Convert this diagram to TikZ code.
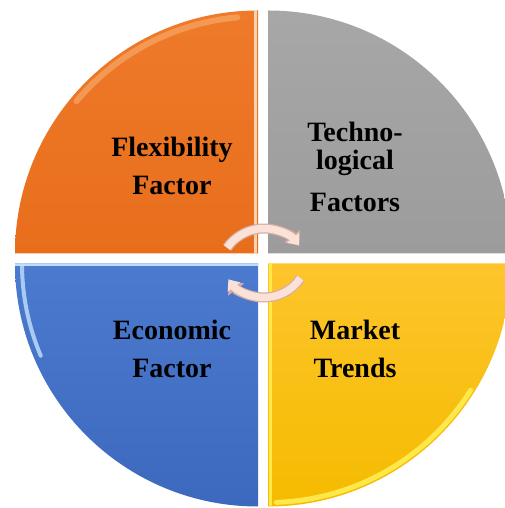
\documentclass[tikz,border=0pt]{standalone}
\usepackage{fontspec}
\setmainfont{Liberation Serif}
\usepackage{tikz}
\usepackage{xcolor}
\usetikzlibrary{arrows.meta}
\definecolor{pieOrange}{HTML}{EE7A2A}
\definecolor{pieOrangeDark}{HTML}{E86E1C}
\definecolor{pieOrangeRim}{HTML}{F7A868}
\definecolor{pieGray}{HTML}{A7A7A7}
\definecolor{pieGrayDark}{HTML}{9C9C9C}
\definecolor{pieBlue}{HTML}{4C7ACE}
\definecolor{pieBlueDark}{HTML}{3C69BE}
\definecolor{pieBlueRim}{HTML}{A8CBF4}
\definecolor{pieYellow}{HTML}{FDC52C}
\definecolor{pieYellowDark}{HTML}{F5BB00}
\definecolor{pieYellowRim}{HTML}{FFE84A}
\definecolor{pieArrow}{HTML}{FBE2D9}
\definecolor{pieArrowEdge}{HTML}{D9AEA2}

\begin{document}
\begin{tikzpicture}[x=1pt,y=1pt, every node/.style={font=\fontsize{28}{38}\selectfont\bfseries, align=center, inner sep=0pt},
    rim/.style={line width=#1, line cap=round},
    turnarrow/.style={line width=10pt, pieArrowEdge, -{Triangle[width=19pt,length=12pt]}},
    turnarrowinner/.style={line width=7.5pt, pieArrow, -{Triangle[width=15pt,length=9.5pt]}}]
    \useasboundingbox (0,0) rectangle (504,508);
    \shade[top color=pieOrange, bottom color=pieOrangeDark] (258,254.5) -- ++(-243,0) arc[start angle=180, end angle=90, radius=243] -- cycle;
    \begin{scope}
      \clip (258,254.5) -- ++(-243,0) arc[start angle=180, end angle=90, radius=243] -- cycle;
      \draw[rim=6pt, pieOrangeRim, opacity=0.7] (258,254.5) ++(95:237) arc[start angle=95, end angle=140, radius=237];
      \draw[rim=3pt, pieOrangeRim!50!white] (255.5,254.5) -- ++(0,243);
    \end{scope}
    \shade[top color=pieGray, bottom color=pieGrayDark] (268,254.5) -- ++(0,243) arc[start angle=90, end angle=0, radius=243] -- cycle;
    \shade[top color=pieBlue, bottom color=pieBlueDark] (258,244.5) -- ++(-243,0) arc[start angle=180, end angle=270, radius=243] -- cycle;
    \begin{scope}
      \clip (258,244.5) -- ++(-243,0) arc[start angle=180, end angle=270, radius=243] -- cycle;
      \draw[rim=4pt, pieBlueRim] (258,244.5) ++(178:236) arc[start angle=178, end angle=203, radius=236];
      \draw[rim=3pt, pieBlueRim!70!white] (15,243) -- (258,243);
    \end{scope}
    \shade[top color=pieYellow, bottom color=pieYellowDark] (268,244.5) -- ++(0,-243) arc[start angle=270, end angle=360, radius=243] -- cycle;
    \begin{scope}
      \clip (268,244.5) -- ++(0,-243) arc[start angle=270, end angle=360, radius=243] -- cycle;
      \draw[rim=5pt, pieYellowRim] (268,244.5) ++(272:239) arc[start angle=272, end angle=328, radius=239];
      \draw[rim=3pt, pieYellowRim] (270.5,3) -- (270.5,244.5);
    \end{scope}
    \coordinate (hubtop) at (264,234.5);
    \coordinate (hubbottom) at (264,254.5);
    \draw[turnarrow] (hubtop) ++(145:45) arc[start angle=145, end angle=38, radius=45];
    \draw[turnarrowinner] (hubtop) ++(145:45) arc[start angle=145, end angle=39, radius=45];
    \draw[turnarrow] (hubbottom) ++(326:44) arc[start angle=326, end angle=217, radius=44];
    \draw[turnarrowinner] (hubbottom) ++(326:44) arc[start angle=326, end angle=216, radius=44];
    \node[anchor=base] (flex) at (172,313) {Flexibility\\Factor};
    \node[anchor=base] (tech) at (355,296) {Techno-\\[-10pt]logical\\[4pt]Factors};
    \node[anchor=base] (econ) at (172,130) {Economic\\Factor};
    \node[anchor=base] (market) at (355,130) {Market\\Trends};
  \end{tikzpicture}
\end{document}
